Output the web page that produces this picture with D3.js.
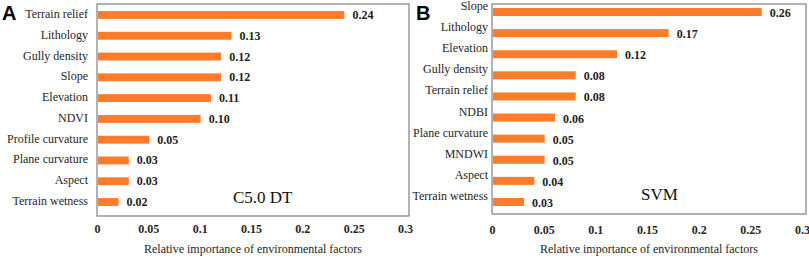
<!DOCTYPE html>
<html>
<head>
<meta charset="utf-8">
<script src="https://cdn.jsdelivr.net/npm/d3@7"></script>
<style>
body { margin: 0; background: #fff; }
svg text { font-family: "Liberation Serif", "Times New Roman", serif; }
</style>
</head>
<body>
<div id="chart"></div>
<script>
// panel A: C5.0 DT
var factorsA = ["Terrain relief", "Lithology", "Gully density", "Slope", "Elevation", "NDVI",
                "Profile curvature", "Plane curvature", "Aspect", "Terrain wetness"];
var valuesA = [0.24, 0.13, 0.12, 0.12, 0.11, 0.10, 0.05, 0.03, 0.03, 0.02];

// panel B: SVM
var factorsB = ["Slope", "Lithology", "Elevation", "Gully density", "Terrain relief", "NDBI",
                "Plane curvature", "MNDWI", "Aspect", "Terrain wetness"];
var valuesB = [0.26, 0.17, 0.12, 0.08, 0.08, 0.06, 0.05, 0.05, 0.04, 0.03];

var xTicks = [0, 0.05, 0.1, 0.15, 0.2, 0.25, 0.3];
var xTitle = "Relative importance of environmental factors";

var svg = d3.select("#chart").append("svg")
    .attr("width", 809)
    .attr("height", 262);

function panel(opts) {
    var g = svg.append("g");
    var x = d3.scaleLinear().domain([0, 0.3]).range([opts.left, opts.right - 4]);
    var y = d3.scaleBand().domain(opts.names).range(opts.yRange).paddingInner(0.62).paddingOuter(0.3);

    var data = opts.names.map(function(n, i) { return {name: n, v: opts.vals[i]}; });

    // category names (drawn before the box so the box edge can clip them)
    g.selectAll(".name").data(data).enter().append("text")
        .attr("class", "name")
        .attr("x", opts.left - opts.labelGap)
        .attr("y", d => y(d.name) + y.bandwidth() / 2 + 4 - opts.labelLift)
        .attr("text-anchor", "end")
        .attr("font-size", "12px").attr("fill", "#262626")
        .text(d => d.name);

    g.append("rect")
        .attr("x", opts.left).attr("y", opts.top)
        .attr("width", opts.right - opts.left).attr("height", opts.bottom - opts.top)
        .attr("fill", "#fff").attr("stroke", "#8a8a8a").attr("stroke-width", 1.3);

    g.selectAll(".bar").data(data).enter().append("rect")
        .attr("class", "bar")
        .attr("x", x(0) + 1)
        .attr("y", d => y(d.name))
        .attr("width", d => x(d.v) - x(0))
        .attr("height", y.bandwidth())
        .attr("fill", "#fb7d2b");

    g.selectAll(".val").data(data).enter().append("text")
        .attr("class", "val")
        .attr("x", d => x(d.v) + 9)
        .attr("y", d => y(d.name) + y.bandwidth() / 2 + 4 + opts.valDrop)
        .attr("font-size", "12px").attr("font-weight", "bold").attr("fill", "#222")
        .text(d => d.v.toFixed(2));

    // x axis labels
    var ax = g.append("g")
        .attr("transform", "translate(0," + opts.bottom + ")")
        .call(d3.axisBottom(x).tickValues(xTicks).tickSize(0).tickPadding(opts.tickPad).tickFormat(d3.format("~g")));
    ax.select(".domain").remove();
    ax.selectAll("text")
        .attr("font-size", "12px").attr("font-weight", "bold").attr("fill", "#262626");

    g.append("text")
        .attr("x", (opts.left + opts.right) / 2)
        .attr("y", 253)
        .attr("text-anchor", "middle")
        .attr("font-size", "12px").attr("fill", "#262626")
        .text(xTitle);

    g.append("text")
        .attr("x", opts.modelX).attr("y", opts.modelY)
        .attr("font-size", "17px").attr("fill", "#111")
        .text(opts.model);

    g.append("text")
        .attr("x", opts.letterX).attr("y", 20)
        .style("font-family", "Liberation Sans, Arial, sans-serif")
        .attr("font-size", "20px").attr("font-weight", "bold").attr("fill", "#000")
        .text(opts.letter);
}

panel({names: factorsA, vals: valuesA, left: 97, right: 409, top: 4, bottom: 216,
       yRange: [4.8, 212.2], labelGap: 9, labelLift: 1, valDrop: 0, tickPad: 8,
       model: "C5.0 DT", modelX: 233, modelY: 203, letter: "A", letterX: 2});
panel({names: factorsB, vals: valuesB, left: 492, right: 806, top: 4, bottom: 214,
       yRange: [1.7, 212.3], labelGap: 4, labelLift: 6, valDrop: 1, tickPad: 11,
       model: "SVM", modelX: 641, modelY: 200, letter: "B", letterX: 416});
</script>
</body>
</html>
